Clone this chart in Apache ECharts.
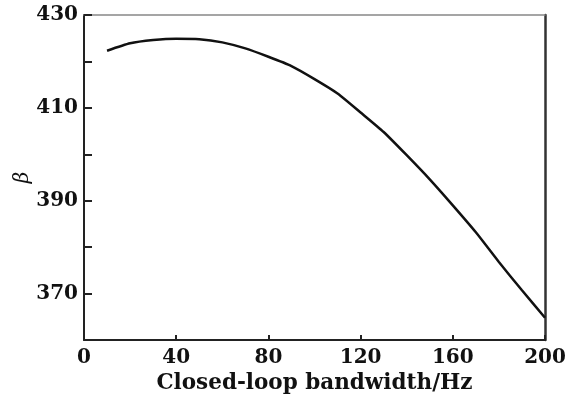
<!DOCTYPE html>
<html><head><meta charset="utf-8">
<script src="https://cdn.jsdelivr.net/npm/echarts@6/dist/echarts.min.js"></script>
<style>html,body{margin:0;padding:0;background:#fff}#c{width:574px;height:394px}</style>
</head><body><div id="c"></div>
<script>
const bandwidth = [10, 20, 30, 40, 50, 60, 70, 80, 90, 100, 110, 120, 130, 140, 150, 160, 170, 180, 190, 200];
const beta = [422.3, 423.9, 424.6, 424.9, 424.8, 424.1, 422.8, 421.0, 419.0, 416.2, 413.1, 409.0, 404.8, 399.8, 394.6, 389.0, 383.2, 376.8, 370.7, 364.8];
const xTicks = [0, 40, 80, 120, 160, 200];
const yTickLabels = [370, 390, 410, 430];
const xName = 'Closed-loop bandwidth/Hz';
const yName = 'β';

const font = 'DejaVu Serif';
const chart = echarts.init(document.getElementById('c'), null, {renderer: 'canvas'});
chart.setOption({
  animation: false,
  backgroundColor: '#fff',
  grid: {left: 84, right: 29, top: 15, bottom: 54, containLabel: false, outerBoundsMode: 'none'},
  xAxis: [{
    type: 'value', min: 0, max: 200, interval: 40,
    name: xName, nameLocation: 'middle', nameGap: 30,
    nameTextStyle: {fontFamily: font, fontWeight: 'bold', fontSize: 21.5, color: '#111'},
    axisLine: {onZero: false, lineStyle: {color: '#222', width: 2}},
    axisTick: {show: true, inside: true, length: 5, lineStyle: {color: '#222', width: 2}},
    axisLabel: {margin: 8, fontFamily: font, fontWeight: 'bold', fontSize: 20, color: '#111',
      formatter: v => xTicks.includes(v) ? String(v) : ''},
    splitLine: {show: false}
  }, {
    type: 'value', min: 0, max: 200, position: 'top',
    axisLine: {show: true, onZero: false, lineStyle: {color: '#888', width: 1.5}},
    axisTick: {show: false}, axisLabel: {show: false}, splitLine: {show: false}
  }],
  yAxis: [{
    type: 'value', min: 360, max: 430, interval: 10,
    name: yName, nameLocation: 'middle', nameGap: 51, nameRotate: 90, nameMoveOverlap: false,
    nameTextStyle: {fontFamily: font, fontStyle: 'italic', fontSize: 20, color: '#111'},
    axisLine: {show: true, onZero: false, lineStyle: {color: '#222', width: 2}},
    axisTick: {show: true, inside: true, length: 8, lineStyle: {color: '#222', width: 2}},
    axisLabel: {margin: 6, fontFamily: font, fontWeight: 'bold', fontSize: 20, color: '#111',
      formatter: v => yTickLabels.includes(v) ? String(v) : ''},
    splitLine: {show: false}
  }, {
    type: 'value', min: 360, max: 430, position: 'right',
    axisLine: {show: true, onZero: false, lineStyle: {color: '#333', width: 2.5}},
    axisTick: {show: false}, axisLabel: {show: false}, splitLine: {show: false}
  }],
  series: [{
    type: 'line', smooth: 0.2, showSymbol: false,
    data: bandwidth.map((x, i) => [x, beta[i]]),
    lineStyle: {color: '#111', width: 2.5}
  }]
});
</script></body></html>
